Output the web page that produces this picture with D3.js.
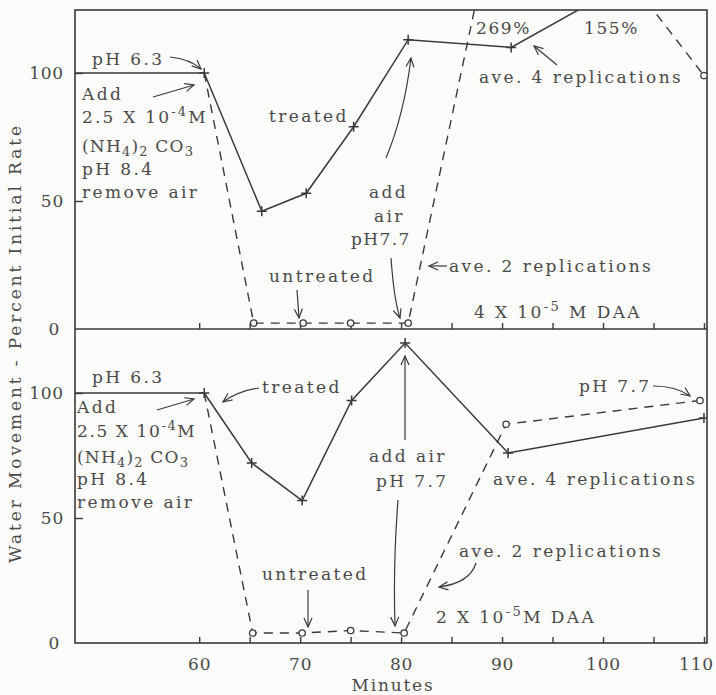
<!DOCTYPE html>
<html><head><meta charset="utf-8">
<script src="https://cdn.jsdelivr.net/npm/d3@7"></script>
<style>
html,body{margin:0;padding:0;background:#fbfbf9;}
svg{display:block;}
text{font-family:"DejaVu Serif",serif;fill:#4a4a4a;}
</style></head>
<body>
<svg id="chart" width="716" height="695"></svg>
<script>
// ---------- data ----------
const xTickValues = [60,65,70,75,80,85,90,95,100,105,110];
const yTickValues = [0,50,100];

// top panel: 4 X 10^-5 M DAA
const topInitialMin = [47.7, 60.5];
const topInitialVal = [100, 100];
const topTreatedMin = [60.5, 66.2, 70.6, 75.3, 80.7, 90.9, 110];
const topTreatedVal = [100, 46, 53, 79, 113, 110, 152];
const topUntreatedMin = [60.5, 65.4, 70.3, 75.0, 80.7, 95, 100, 110];
const topUntreatedVal = [100, 2.3, 2.3, 2.3, 2.3, 269, 150, 99];

// bottom panel: 2 X 10^-5 M DAA
const botInitialMin = [47.7, 60.4];
const botInitialVal = [100, 100];
const botTreatedMin = [60.5, 65.2, 70.2, 75.1, 80.4, 90.6, 110];
const botTreatedVal = [100, 72, 57, 97, 120, 76, 90];
const botUntreatedMin = [60.5, 65.3, 70.2, 75.0, 80.3, 90.4, 109.6];
const botUntreatedVal = [100, 4, 4, 5, 4, 87.5, 97];

// ---------- layout ----------
const svg = d3.select("#chart");
const L = 75, R = 707, T = 10, MID = 329, B = 643;
const ink = "#3a3a3a";
const x = d3.scaleLinear().domain([47.7,110.3]).range([L,R]);
const yTop = d3.scaleLinear().domain([0,124.6]).range([MID,T]);
const yBot = d3.scaleLinear().domain([0,125.6]).range([B,MID]);

const defs = svg.append("defs");
defs.append("marker").attr("id","ah").attr("viewBox","-10 -6 12 12")
  .attr("markerWidth",12).attr("markerHeight",12).attr("markerUnits","userSpaceOnUse")
  .attr("refX",0).attr("refY",0).attr("orient","auto")
  .append("path").attr("d","M-9,-4 L0,0 L-9,4").attr("fill","none").attr("stroke",ink).attr("stroke-width",1.2);
defs.append("clipPath").attr("id","clipTop").append("rect").attr("x",L).attr("y",T).attr("width",R-L).attr("height",MID-T);
defs.append("clipPath").attr("id","clipBot").append("rect").attr("x",L).attr("y",MID).attr("width",R-L).attr("height",B-MID);

// frame
svg.append("rect").attr("x",L).attr("y",T).attr("width",R-L).attr("height",B-T)
  .attr("fill","none").attr("stroke",ink).attr("stroke-width",1.6);
svg.append("line").attr("x1",L).attr("x2",R).attr("y1",MID).attr("y2",MID)
  .attr("stroke",ink).attr("stroke-width",1.6);

// axes
function styleAxis(g){
  g.select(".domain").remove();
  g.selectAll(".tick line").attr("stroke",ink).attr("stroke-width",1.4);
  g.selectAll(".tick text").attr("font-family","DejaVu Serif").attr("font-size",17)
    .attr("fill","#4a4a4a").attr("letter-spacing",0.8);
}
svg.append("g").attr("transform",`translate(0,${MID})`)
  .call(d3.axisBottom(x).tickValues(xTickValues).tickSize(-6).tickFormat(""))
  .call(styleAxis);
svg.append("g").attr("transform",`translate(0,${B})`)
  .call(d3.axisBottom(x).tickValues(xTickValues).tickSize(-6).tickPadding(15)
    .tickFormat(d => d % 10 === 0 ? d : ""))
  .call(styleAxis)
  .call(g => g.selectAll(".tick").filter(d => d===110).select("text").attr("dx",-8));
[yTop,yBot].forEach(ys => {
  svg.append("g").attr("transform",`translate(${L},0)`)
    .call(d3.axisLeft(ys).tickValues(yTickValues).tickSize(-8).tickPadding(11))
    .call(styleAxis)
    .call(g => g.selectAll(".tick").filter(d => d===0).select("text").attr("dx",-4))
    .call(g => g.selectAll(".tick").filter(d => d===0).select("line").remove());
});

// axis titles
svg.append("text").attr("transform","translate(21,343) rotate(-90)")
  .attr("text-anchor","middle").attr("font-size",17).attr("letter-spacing",2.9)
  .text("Water Movement - Percent Initial Rate");
svg.append("text").attr("x",393).attr("y",691).attr("text-anchor","middle")
  .attr("font-size",17).attr("letter-spacing",1.8).text("Minutes");

// series drawing
function drawPanel(ys, clip, initMin, initVal, trMin, trVal, unMin, unVal, circleIdx){
  const g = svg.append("g").attr("clip-path",`url(#${clip})`);
  const line = d3.line().x(d => x(d[0])).y(d => ys(d[1]));
  g.append("path").datum(d3.zip(initMin, initVal)).attr("d",line)
    .attr("fill","none").attr("stroke",ink).attr("stroke-width",1.5);
  g.append("path").datum(d3.zip(unMin, unVal)).attr("d",line)
    .attr("fill","none").attr("stroke",ink).attr("stroke-width",1.4).attr("stroke-dasharray","9,7");
  g.append("path").datum(d3.zip(trMin, trVal)).attr("d",line)
    .attr("fill","none").attr("stroke",ink).attr("stroke-width",1.5);
  g.selectAll(".plus").data(d3.zip(trMin,trVal)).join("path")
    .attr("d", d => `M${x(d[0])-5},${ys(d[1])}h10M${x(d[0])},${ys(d[1])-5}v10`)
    .attr("stroke",ink).attr("stroke-width",1.5);
  g.selectAll(".circ").data(d3.zip(unMin,unVal).filter((d,i)=>circleIdx.includes(i))).join("circle")
    .attr("cx", d => x(d[0])).attr("cy", d => ys(d[1])).attr("r",3.2)
    .attr("fill","#fbfbf9").attr("stroke",ink).attr("stroke-width",1.3);
}
drawPanel(yTop,"clipTop",topInitialMin,topInitialVal,topTreatedMin,topTreatedVal,topUntreatedMin,topUntreatedVal,[1,2,3,4,7]);
drawPanel(yBot,"clipBot",botInitialMin,botInitialVal,botTreatedMin,botTreatedVal,botUntreatedMin,botUntreatedVal,[1,2,3,4,5,6]);

// ---------- annotations ----------
const FS = 17, LS = 2.4;
function txt(px, py, parts, opts={}){
  const t = svg.append("text").attr("x",px).attr("y",py).attr("font-size",FS)
    .attr("letter-spacing", opts.ls ?? LS);
  if (typeof parts === "string") { t.text(parts); return t; }
  parts.forEach(p => {
    const s = t.append("tspan").text(p.t);
    if (p.sup) s.attr("font-size",13).attr("baseline-shift","55%");
    if (p.sub) s.attr("font-size",13).attr("baseline-shift","-30%");
  });
  return t;
}
function arrow(d){
  svg.append("path").attr("d",d).attr("fill","none").attr("stroke",ink)
    .attr("stroke-width",1.2).attr("marker-end","url(#ah)");
}
// top panel
txt(92,65,"pH 6.3");
txt(82,100,"Add");
txt(82,123,[{t:"2.5 X 10"},{t:"-4",sup:true},{t:"M"}],{ls:2.2});
txt(82,152,[{t:"(NH"},{t:"4",sub:true},{t:")"},{t:"2",sub:true},{t:" CO"},{t:"3",sub:true}],{ls:1.2});
txt(82,175,"pH 8.4");
txt(82,198,"remove air");
txt(269,122,"treated");
txt(269,282,"untreated");
txt(369,198,"add");
txt(374,222,"air");
txt(351,245,"pH7.7",{ls:1.4});
txt(449,272,"ave. 2 replications");
txt(474,318,[{t:"4 X 10"},{t:"-5",sup:true},{t:" M DAA"}]);
txt(476,34,"269%",{ls:1.6});
txt(584,34,"155%",{ls:1.6});
txt(479,83,"ave. 4 replications");
arrow("M170,57 Q190,59 201,69");
arrow("M153,97 L194,85");
arrow("M297,290 L299,318");
arrow("M386,158 Q404,115 411,58");
arrow("M391,258 Q394,300 400,318");
arrow("M557,65 L534,46");
arrow("M447,266 L429,266");
// bottom panel
txt(92,383,"pH 6.3");
txt(262,393,"treated");
txt(77,413,"Add");
txt(77,437,[{t:"2.5 X 10"},{t:"-4",sup:true},{t:"M"}],{ls:1.6});
txt(77,463,[{t:"(NH"},{t:"4",sub:true},{t:")"},{t:"2",sub:true},{t:" CO"},{t:"3",sub:true}],{ls:1.2});
txt(77,485,"pH 8.4");
txt(77,508,"remove air");
txt(262,580,"untreated");
txt(369,462,"add air");
txt(376,487,"pH 7.7");
txt(493,485,"ave. 4 replications");
txt(459,557,"ave. 2 replications");
txt(436,623,[{t:"2 X 10"},{t:"-5",sup:true},{t:"M DAA"}]);
txt(579,392,"pH 7.7");
arrow("M157,410 L194,399");
arrow("M259,388 Q238,391 223,402");
arrow("M308,590 L308,627");
arrow("M405,440 L405,356");
arrow("M398,500 Q393,565 395,626");
arrow("M476,563 Q470,583 439,587");
arrow("M653,386 Q676,386 690,396");
</script>
</body></html>
